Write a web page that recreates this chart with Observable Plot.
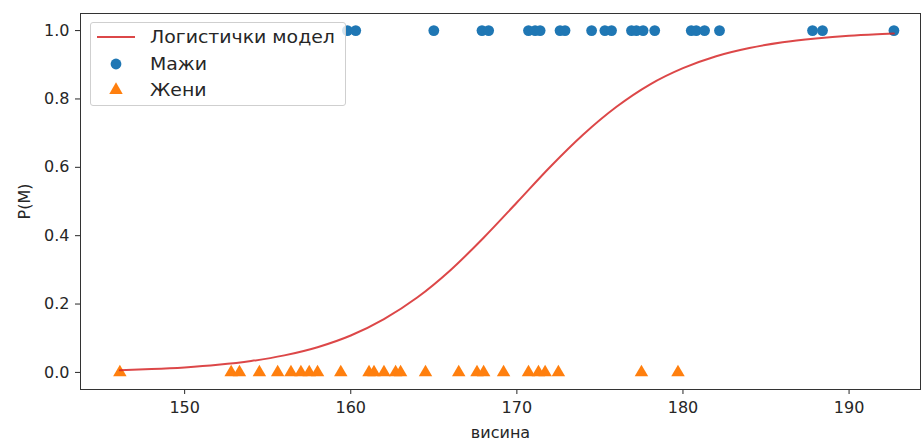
<!DOCTYPE html>
<html>
<head>
<meta charset="utf-8">
<script src="https://cdn.jsdelivr.net/npm/d3@7"></script>
<script src="https://cdn.jsdelivr.net/npm/@observablehq/plot@0.6"></script>
<style>
  html, body { margin: 0; padding: 0; background: #fff; }
  #wrap { position: relative; width: 924px; height: 440px; font-family: "DejaVu Sans", sans-serif; }
  #legend { position: absolute; left: 90px; top: 22px; width: 256px; height: 84px;
    border: 1px solid #cfcfcf; border-radius: 3px; background: rgba(255,255,255,0.8);
    box-sizing: border-box; font-size: 17px; color: #262626; }
  #legend .lbl { position: absolute; left: 59px; white-space: nowrap; transform: scaleX(1.11); transform-origin: 0 50%; }
  #legend svg { position: absolute; left: 0; top: 0; }
</style>
</head>
<body>
<div id="wrap"></div>
<script>
// Heights (висина) of men (P(M)=1) and women (P(M)=0)
const menHeights = [159.8, 160.3, 165.0, 167.9, 168.3, 170.7, 171.1, 171.4, 172.6, 172.9,
  174.5, 175.3, 175.7, 176.9, 177.2, 177.6, 178.3, 180.5, 180.8, 181.3, 182.2, 187.8, 188.4, 192.7];
const womenHeights = [146.1, 152.8, 153.3, 154.5, 155.6, 156.4, 157.0, 157.5, 158.0, 159.4,
  161.1, 161.4, 162.0, 162.7, 163.0, 164.5, 166.5, 167.6, 168.0, 169.2, 170.7, 171.3, 171.7,
  172.5, 177.5, 179.7];
// Logistic model curve
const curveX = [146.1, 148, 150, 152, 154, 156, 158, 160, 162, 164, 166, 168, 170, 172, 174,
  176, 178, 180, 182, 184, 186, 188, 190, 192, 192.7];
const curveP = [0.0066, 0.0097, 0.0146, 0.0221, 0.0332, 0.0498, 0.0738, 0.108, 0.156, 0.219,
  0.299, 0.394, 0.497, 0.601, 0.696, 0.777, 0.842, 0.890, 0.925, 0.949, 0.966, 0.977, 0.985,
  0.990, 0.9915];
const xTicks = [150, 160, 170, 180, 190];
const yTicks = [0.0, 0.2, 0.4, 0.6, 0.8, 1.0];
const labels = {line: "Логистички модел", men: "Мажи", women: "Жени", x: "висина", y: "P(M)"};
const colors = {line: "#d62728", men: "#1f77b4", women: "#ff7f0e"};

const men = menHeights.map(h => ({h, p: 1}));
const women = womenHeights.map(h => ({h, p: 0}));
const curve = curveX.map((h, i) => ({h, p: curveP[i]}));

const chart = Plot.plot({
  width: 924,
  height: 440,
  marginLeft: 80,
  marginRight: 4,
  marginTop: 13,
  marginBottom: 51,
  style: {fontFamily: "DejaVu Sans", fontSize: "16px", color: "#262626", background: "#fff"},
  x: {domain: [143.73, 194.3]},
  y: {domain: [-0.05, 1.05]},
  marks: [
    Plot.dot(women, {x: "h", y: "p", symbol: "triangle", r: 5, fill: colors.women, stroke: "none"}),
    Plot.dot(men, {x: "h", y: "p", symbol: "circle", r: 5.4, fill: colors.men, stroke: "none"}),
    Plot.line(curve, {x: "h", y: "p", stroke: colors.line, strokeWidth: 2, strokeOpacity: 0.85, curve: "monotone-x"}),
    Plot.axisX({ticks: xTicks, tickFormat: d => String(d), tickSize: 5, tickPadding: 7, fontSize: 16,
      label: labels.x, labelAnchor: "center", labelArrow: "none", labelOffset: 48}),
    Plot.axisY({ticks: yTicks, tickFormat: d3.format(".1f"), tickSize: 5, tickPadding: 6, fontSize: 16,
      label: labels.y, labelAnchor: "center", labelArrow: "none", labelOffset: 62}),
    Plot.frame({stroke: "#333", strokeWidth: 1})
  ]
});

const wrap = document.getElementById("wrap");
wrap.appendChild(chart);

// Legend
const legend = document.createElement("div");
legend.id = "legend";
const rows = [
  {key: "line", y: 14},
  {key: "men", y: 41},
  {key: "women", y: 67}
];
const icons = d3.create("svg").attr("width", 60).attr("height", 84);
icons.append("line").attr("x1", 6).attr("x2", 44).attr("y1", 14).attr("y2", 14)
  .attr("stroke", colors.line).attr("stroke-width", 2).attr("stroke-opacity", 0.85);
icons.append("path").attr("transform", "translate(25,41)")
  .attr("d", d3.symbol(d3.symbolCircle, Math.PI * 5.4 * 5.4)()).attr("fill", colors.men);
icons.append("path").attr("transform", "translate(25,67)")
  .attr("d", d3.symbol(d3.symbolTriangle, Math.PI * 5 * 5)()).attr("fill", colors.women);
legend.appendChild(icons.node());
for (const r of rows) {
  const s = document.createElement("span");
  s.className = "lbl";
  s.style.top = (r.y - 10) + "px";
  s.style.lineHeight = "20px";
  s.textContent = labels[r.key];
  legend.appendChild(s);
}
wrap.appendChild(legend);
</script>
</body>
</html>
